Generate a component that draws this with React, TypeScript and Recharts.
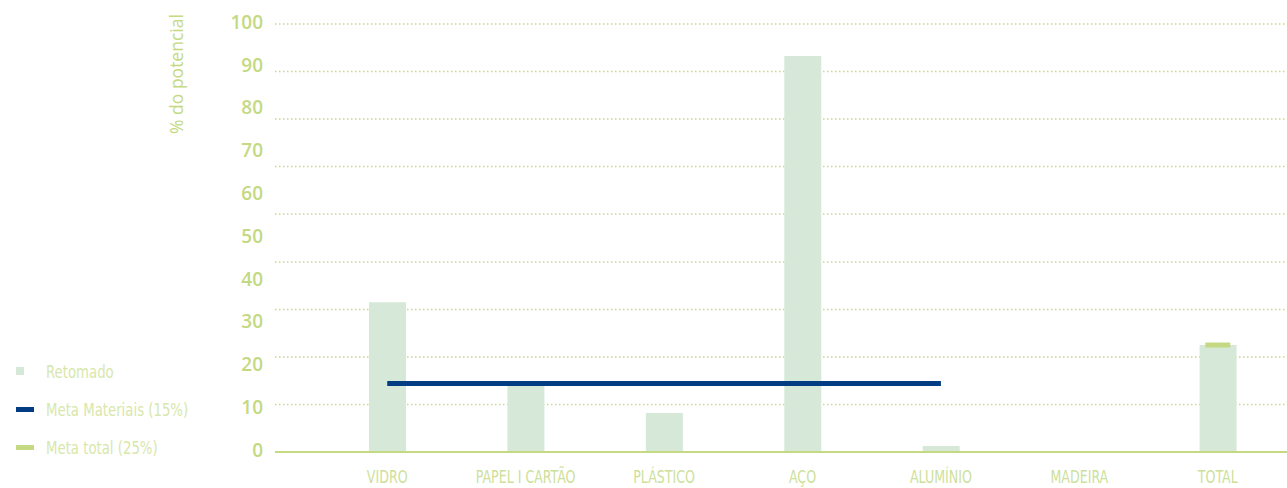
import React from 'react';
import {
  ComposedChart, Bar, Line, XAxis, YAxis, CartesianGrid, Label,
} from 'recharts';

// categories and series
const categories = ['VIDRO', 'PAPEL I CARTÃO', 'PLÁSTICO', 'AÇO', 'ALUMÍNIO', 'MADEIRA', 'TOTAL'];
const retomado = [35, 15.5, 9.1, 92.5, 1.4, 0, 25];
const metaMateriais = [16, 16, 16, 16, 16, null, null];
const metaTotal = [null, null, null, null, null, null, 25];
const yTicks = [0, 10, 20, 30, 40, 50, 60, 70, 80, 90, 100];
// the dotted lines in the original are not on the ticks: 9 even steps between 0 and 100
const gridValues = [11.1, 22.2, 33.3, 44.4, 55.6, 66.7, 77.8, 88.9, 100];

const data = categories.map((name, i) => ({
  name,
  retomado: retomado[i],
  metaMateriais: metaMateriais[i],
  metaTotal: metaTotal[i],
}));

const GREEN = '#c4d982';
const GREEN_TEXT = '#cddf9a';
const LEGEND_TEXT = '#d8e7ab';
const MINT = '#d6e9d9';
const NAVY = '#023c82';
const NARROW = '"DejaVu Sans Condensed", "Liberation Sans Narrow", sans-serif';
const SANS = '"Open Sans", "DejaVu Sans", sans-serif';

// condensed caps like the original's gothic face
const CategoryTick = (props: any) => {
  const { x, payload } = props;
  return (
    <text
      transform={`translate(${x}, 483) scale(0.78, 1)`}
      textAnchor="middle"
      fill={GREEN_TEXT}
      fontSize={18}
      fontFamily={NARROW}
    >
      {payload.value}
    </text>
  );
};

const TotalMarker = (props: any) => {
  const { cx, cy, payload, index } = props;
  if (payload == null || payload.metaTotal == null || cx == null || cy == null) {
    return <g key={`mt-${index}`} />;
  }
  return <rect key={`mt-${index}`} x={cx - 12.5} y={cy - 2.5} width={25} height={5} fill={GREEN} />;
};

const legendItems = [
  { label: 'Retomado', color: MINT, w: 8, h: 8 },
  { label: 'Meta Materiais (15%)', color: NAVY, w: 18, h: 5 },
  { label: 'Meta total (25%)', color: GREEN, w: 18, h: 5 },
];

export default function App() {
  return (
    <div style={{ position: 'absolute', left: 0, top: 0, width: 1287, height: 488, background: '#fff' }}>
      <ComposedChart
        width={1287}
        height={488}
        data={data}
        margin={{ top: 24, right: 0, bottom: 0, left: 0 }}
      >
        <CartesianGrid
          vertical={false}
          horizontalValues={gridValues}
          stroke="#c8d98a"
          strokeWidth={1.5}
          strokeDasharray="1.5 2.5"
        />
        <XAxis
          dataKey="name"
          height={36}
          padding={{ left: 43, right: 0 }}
          axisLine={{ stroke: GREEN, strokeWidth: 2 }}
          tickLine={false}
          tickSize={0}
          interval={0}
          tick={CategoryTick}
        />
        <YAxis
          width={275}
          domain={[0, 100]}
          ticks={yTicks}
          axisLine={false}
          tickLine={false}
          tickSize={0}
          tickMargin={12}
          tick={{ fontSize: 19, fill: GREEN, fontFamily: SANS, fontWeight: 600, dy: -2 }}
        >
          <Label
            content={() => (
              <text
                x={176}
                y={74}
                transform="rotate(-90, 176, 74)"
                textAnchor="middle"
                dominantBaseline="central"
                fill={GREEN}
                fontSize={17.5}
                fontFamily={SANS}
              >
                % do potencial
              </text>
            )}
          />
        </YAxis>
        <Bar dataKey="retomado" fill={MINT} barSize={37} isAnimationActive={false} />
        <Line
          dataKey="metaMateriais"
          stroke={NAVY}
          strokeWidth={5}
          strokeLinecap="butt"
          dot={false}
          activeDot={false}
          connectNulls={false}
          isAnimationActive={false}
        />
        <Line
          dataKey="metaTotal"
          stroke="none"
          dot={TotalMarker}
          activeDot={false}
          isAnimationActive={false}
        />
      </ComposedChart>
      <div style={{ position: 'absolute', left: 16, top: 352, fontFamily: NARROW, fontSize: 18, color: LEGEND_TEXT }}>
        {legendItems.map((item) => (
          <div key={item.label} style={{ display: 'flex', alignItems: 'center', height: 38 }}>
            <div style={{ width: 30, display: 'flex', alignItems: 'center' }}>
              <div style={{ width: item.w, height: item.h, background: item.color }} />
            </div>
            <span style={{ display: 'inline-block', transform: 'scaleX(0.82)', transformOrigin: 'left center', whiteSpace: 'nowrap' }}>
              {item.label}
            </span>
          </div>
        ))}
      </div>
    </div>
  );
}
